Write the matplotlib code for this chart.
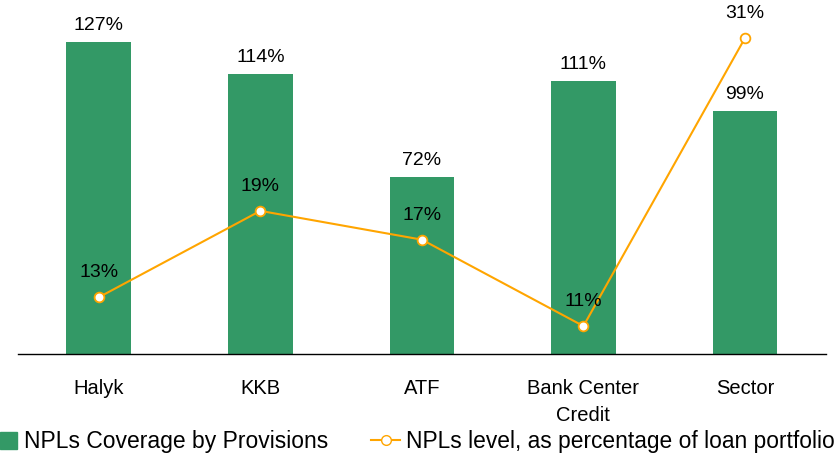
import matplotlib
matplotlib.use('Agg')
import matplotlib.pyplot as plt
from matplotlib.lines import Line2D
from matplotlib.patches import Patch

plt.rcParams['font.family'] = ['Liberation Sans', 'DejaVu Sans']

banks = ['Halyk', 'KKB', 'ATF', 'Bank Center\nCredit', 'Sector']
coverage = [127, 114, 72, 111, 99]
npl_level = [13, 19, 17, 11, 31]

green = '#339966'
orange = '#FFA500'

fig = plt.figure(figsize=(8.34, 4.53), dpi=100)
ax = fig.add_axes([0.0216, 0.2185, 0.9685, 0.7595])
x = range(len(banks))

ax.bar(x, coverage, width=0.4, color=green)
ax.set_xlim(-0.5, 4.5)
ax.set_ylim(0, 140)
for i, v in zip(x, coverage):
    ax.annotate(f'{v}%', (i, v), xytext=(0, 12), textcoords='offset points',
                ha='center', va='center', fontsize=14)

ax.set_xticks(list(x))
ax.set_xticklabels(banks, fontsize=14.5, linespacing=1.55)
ax.tick_params(axis='x', length=0, pad=18)
ax.set_yticks([])
for s in ['top', 'left', 'right']:
    ax.spines[s].set_visible(False)
ax.spines['bottom'].set_color('black')
ax.spines['bottom'].set_linewidth(1.0)

ax2 = ax.twinx()
ax2.plot(x, npl_level, color=orange, lw=1.5, marker='o', markersize=7,
         markerfacecolor='white', markeredgecolor=orange, markeredgewidth=1.3)
ax2.set_ylim(9.06, 32.95)
ax2.set_yticks([])
for s in ['top', 'left', 'right', 'bottom']:
    ax2.spines[s].set_visible(False)
for i, v in zip(x, npl_level):
    ax2.annotate(f'{v}%', (i, v), xytext=(0, 17.5), textcoords='offset points',
                 ha='center', va='center', fontsize=14)

fig.legend([Patch(color=green)], ['NPLs Coverage by Provisions'],
           loc='center left', bbox_to_anchor=(-0.025, 0.025),
           frameon=False, fontsize=16.5, handlelength=0.75,
           handleheight=0.75, handletextpad=0.3)
line_handle = Line2D([], [], color=orange, lw=1.5, marker='o', markersize=7,
                     markerfacecolor='white', markeredgecolor=orange)
fig.legend([line_handle], ['NPLs level, as percentage of loan portfolio'],
           loc='center left', bbox_to_anchor=(0.42, 0.025),
           frameon=False, fontsize=16.4, handlelength=1.3, handletextpad=0.25)

fig.savefig('out.png', dpi=100)
